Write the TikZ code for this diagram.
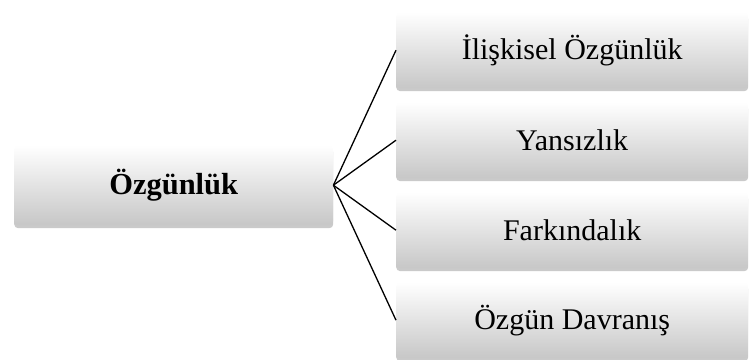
\documentclass[tikz,border=0pt]{standalone}
\usepackage{fontspec}
\setmainfont{Liberation Serif}
\usetikzlibrary{shadows}
\begin{document}
\begin{tikzpicture}[x=1pt,y=-1pt,
  boxstyle/.style={draw=none, rounded corners=4pt, top color=white, bottom color=black!22,
    drop shadow={shadow xshift=0pt, shadow yshift=-3pt, opacity=0.35, fill=black!60},
    minimum height=76pt, inner sep=0pt, anchor=north west},
  linkstyle/.style={draw=black, line width=1.3pt}]
\useasboundingbox (0,0) rectangle (749,359);
\node[boxstyle, minimum width=319pt, font=\fontsize{30.5}{36}\selectfont\bfseries, minimum height=80pt] (root) at (14,145) {Özgünlük};
\node[boxstyle, minimum width=352pt, font=\fontsize{30}{35}\selectfont] (a) at (396,12) {İlişkisel Özgünlük};
\node[boxstyle, minimum width=352pt, font=\fontsize{30}{35}\selectfont] (b) at (396,102) {Yansızlık};
\node[boxstyle, minimum width=352pt, font=\fontsize{30}{35}\selectfont] (c) at (396,192) {Farkındalık};
\node[boxstyle, minimum width=352pt, font=\fontsize{30}{35}\selectfont] (d) at (396,282) {Özgün Davranış};
\foreach \n in {a,b,c,d} \draw[linkstyle] (root.east) -- (\n.west);
\end{tikzpicture}
\end{document}
